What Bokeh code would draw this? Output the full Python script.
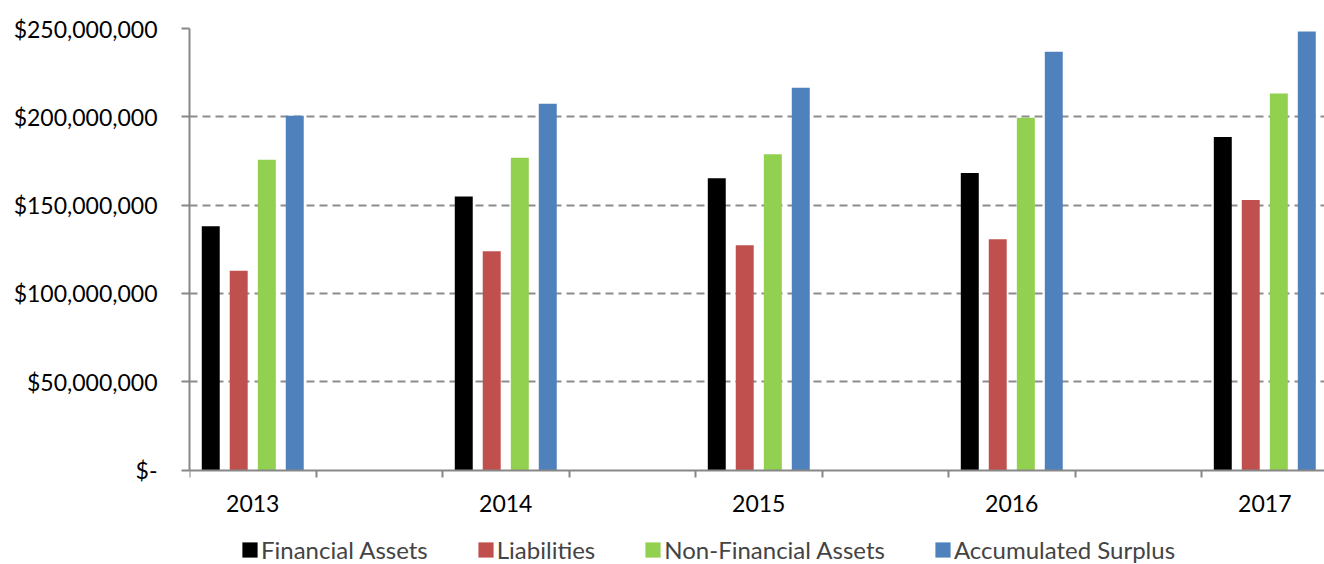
from bokeh.plotting import figure
from bokeh.models import Range1d, FixedTicker, ColumnDataSource, Legend, LegendItem
from bokeh.embed import file_html
from bokeh.resources import INLINE

# ---- data ----
years = ["2013", "2014", "2015", "2016", "2017"]
financial_assets = [138.0e6, 154.9e6, 165.2e6, 168.2e6, 188.6e6]
liabilities = [112.8e6, 123.9e6, 127.3e6, 130.6e6, 152.9e6]
non_financial_assets = [175.7e6, 176.8e6, 178.8e6, 199.4e6, 213.2e6]
accumulated_surplus = [200.6e6, 207.4e6, 216.4e6, 236.8e6, 248.3e6]

series_names = ["Financial Assets", "Liabilities", "Non-Financial Assets", "Accumulated Surplus"]
series_values = [financial_assets, liabilities, non_financial_assets, accumulated_surplus]
series_colors = ["#000000", "#C0504D", "#92D050", "#4F81BD"]

y_ticks = [0, 50e6, 100e6, 150e6, 200e6, 250e6]
y_tick_labels = ["$-", "$50,000,000", "$100,000,000", "$150,000,000", "$200,000,000", "$250,000,000"]

FONT = "Lato"
GRAY = "#878787"

# each year occupies one slot, with an empty slot between years
slot_centers = [2 * i + 0.5 for i in range(len(years))]
offsets = [-0.332, -0.111, 0.111, 0.332]
bar_width = 0.142

# frame runs to the bottom of the canvas; the region below zero holds
# the category labels and the legend
y_max = y_ticks[-1]
y_min = -y_max * 94.5 / 441.5

p = figure(frame_width=1135, frame_height=536, output_backend="svg", toolbar_location=None,
           x_range=Range1d(0, 8.972), y_range=Range1d(y_min, y_max),
           min_border_left=189, min_border_right=0, min_border_top=28, min_border_bottom=0)
p.outline_line_color = None
p.background_fill_color = "white"
p.border_fill_color = "white"

items = []
for name, vals, color, off in zip(series_names, series_values, series_colors, offsets):
    src = ColumnDataSource(dict(x=[c + off for c in slot_centers], top=vals))
    r = p.vbar(x="x", top="top", bottom=0, width=bar_width, source=src,
               fill_color=color, line_color=None)
    items.append(LegendItem(label=name, renderers=[r]))

# x axis, drawn at y = 0
p.xaxis.fixed_location = 0
p.xaxis.ticker = FixedTicker(ticks=slot_centers, minor_ticks=list(range(0, 10)))
p.xaxis.major_label_overrides = {c: y for c, y in zip(slot_centers, years)}
p.xaxis.major_tick_out = 0
p.xaxis.major_tick_in = 0
p.xaxis.minor_tick_out = 7
p.xaxis.minor_tick_in = 0
p.xaxis.minor_tick_line_color = GRAY
p.xaxis.minor_tick_line_width = 2
p.xaxis.axis_line_color = GRAY
p.xaxis.axis_line_width = 2
p.xaxis.major_label_standoff = 18
p.xaxis.major_label_text_font = FONT
p.xaxis.major_label_text_font_size = "23px"
p.xaxis.major_label_text_color = "black"

# y axis
p.yaxis.bounds = (0, y_max)
p.yaxis.ticker = FixedTicker(ticks=y_ticks)
p.yaxis.major_label_overrides = {t: l for t, l in zip(y_ticks, y_tick_labels)}
p.yaxis.major_tick_out = 8
p.yaxis.major_tick_in = 0
p.yaxis.major_tick_line_color = GRAY
p.yaxis.major_tick_line_width = 2
p.yaxis.minor_tick_line_color = None
p.yaxis.axis_line_color = GRAY
p.yaxis.axis_line_width = 2
p.yaxis.major_label_standoff = 24
p.yaxis.major_label_text_font = FONT
p.yaxis.major_label_text_font_size = "23px"
p.yaxis.major_label_text_color = "black"

p.xgrid.visible = False
p.ygrid.ticker = FixedTicker(ticks=y_ticks[1:])
p.ygrid.grid_line_color = "#8c8c8c"
p.ygrid.grid_line_width = 2
p.ygrid.grid_line_dash = "8 5"

legend = Legend(items=items, orientation="horizontal", location=(51, 0),
                margin=0, padding=0, spacing=48, label_standoff=2,
                glyph_width=19, glyph_height=19,
                label_text_font=FONT, label_text_font_size="24px",
                border_line_color=None, background_fill_alpha=0)
p.add_layout(legend)

open("out.html", "w").write(file_html(p, INLINE))
